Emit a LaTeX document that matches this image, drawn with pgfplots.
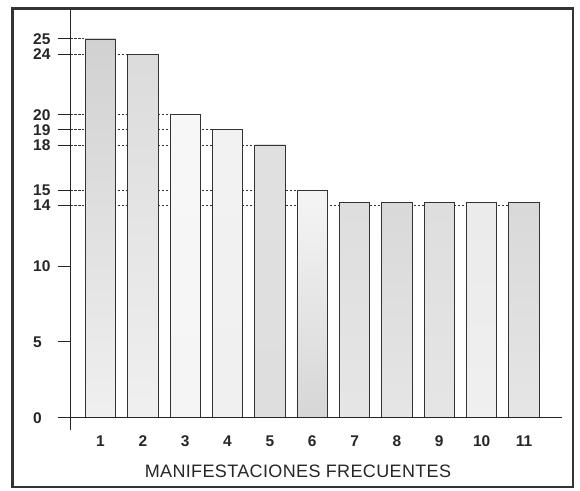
\documentclass[border=0pt]{standalone}
\usepackage{pgfplots}
\pgfplotsset{compat=1.18}
\usepackage{fontspec}
\setmainfont{Liberation Sans}
\newfontfamily\labelfont[LetterSpace=2]{Liberation Sans}
\begin{document}
\begin{tikzpicture}
\begin{axis}[
  scale only axis,
  width=492pt, height=420pt,
  xmin=0.28, xmax=11.897,
  ymin=-0.81, ymax=26.91,
  clip=false,
  axis line style={draw=none},
  xtick={1,2,3,4,5,6,7,8,9,10,11},
  xtick style={draw=none},
  ytick={0,5,10,14,15,18,19,20,24,25},
  ytick style={draw=black!85, line width=0.9pt},
  tick align=outside,
  major tick length=12pt,
  xtick pos=bottom, ytick pos=left,
  /pgf/number format/assume math mode=true,
  ticklabel style={font=\bfseries\fontsize{15.5}{15.5}\selectfont, text=black!85},
  yticklabel style={anchor=west, inner sep=0pt, xshift=-25pt},
  xticklabel style={inner sep=0pt, yshift=6pt},
  xlabel={MANIFESTACIONES FRECUENTES},
  xlabel style={at={(axis description cs:0.4634,-0.0994)}, anchor=center, inner sep=0pt,
    font=\labelfont\fontsize{18}{18}\selectfont, text=black!85},
  ybar, bar width=30.5pt, bar shift=0pt,
]
% guide lines (drawn under the bars)
\addplot[ybar=false, sharp plot, no marks, draw=black!80, line width=0.9pt, dash pattern=on 2.5pt off 1.5pt] coordinates {(0.28,25) (0.64,25)};
\addplot[ybar=false, sharp plot, no marks, draw=black!80, line width=0.9pt, dash pattern=on 2.5pt off 1.5pt] coordinates {(0.28,24) (1.64,24)};
\addplot[ybar=false, sharp plot, no marks, draw=black!80, line width=0.9pt, dash pattern=on 2.5pt off 1.5pt] coordinates {(0.28,20) (2.64,20)};
\addplot[ybar=false, sharp plot, no marks, draw=black!80, line width=0.9pt, dash pattern=on 2.5pt off 1.5pt] coordinates {(0.28,19) (3.64,19)};
\addplot[ybar=false, sharp plot, no marks, draw=black!80, line width=0.9pt, dash pattern=on 2.5pt off 1.5pt] coordinates {(0.28,18) (4.64,18)};
\addplot[ybar=false, sharp plot, no marks, draw=black!80, line width=0.9pt, dash pattern=on 2.5pt off 1.5pt] coordinates {(0.28,15) (5.64,15)};
\addplot[ybar=false, sharp plot, no marks, draw=black!80, line width=0.9pt, dash pattern=on 2.5pt off 1.5pt] coordinates {(0.28,14) (10.64,14)};
% bars
\addplot[draw=black!80, line width=0.8pt, top color=black!18, middle color=black!15, bottom color=black!6] coordinates {(1,25)};
\addplot[draw=black!80, line width=0.8pt, top color=black!14, middle color=black!18, bottom color=black!6] coordinates {(2,24)};
\addplot[draw=black!80, line width=0.8pt, top color=black!3, middle color=black!12, bottom color=black!4] coordinates {(3,20)};
\addplot[draw=black!80, line width=0.8pt, top color=black!5, middle color=black!15, bottom color=black!6] coordinates {(4,19)};
\addplot[draw=black!80, line width=0.8pt, top color=black!12, middle color=black!16, bottom color=black!13] coordinates {(5,18)};
\addplot[draw=black!80, line width=0.8pt, top color=black!4, middle color=black!8, bottom color=black!16] coordinates {(6,15)};
\addplot[draw=black!80, line width=0.8pt, top color=black!13, middle color=black!12, bottom color=black!10] coordinates {(7,14.2)};
\addplot[draw=black!80, line width=0.8pt, top color=black!15, middle color=black!13, bottom color=black!10] coordinates {(8,14.2)};
\addplot[draw=black!80, line width=0.8pt, top color=black!13, middle color=black!15, bottom color=black!10] coordinates {(9,14.2)};
\addplot[draw=black!80, line width=0.8pt, top color=black!8, middle color=black!8, bottom color=black!6] coordinates {(10,14.2)};
\addplot[draw=black!80, line width=0.8pt, top color=black!15, middle color=black!13, bottom color=black!10] coordinates {(11,14.2)};
% axis lines
\draw[black!85, line width=0.9pt] (axis cs:0.28,-0.81) -- (axis cs:0.28,26.91);
\draw[black!85, line width=0.9pt] (axis cs:0.0,0) -- (axis cs:11.897,0);
% outer frame
\draw[black!80, line width=2.2pt] (axis cs:-1.078,-4.574) rectangle (axis cs:12.157,27.01);
\path (axis cs:-1.373,-4.838) (axis cs:12.323,27.57);
\end{axis}
\end{tikzpicture}
\end{document}
